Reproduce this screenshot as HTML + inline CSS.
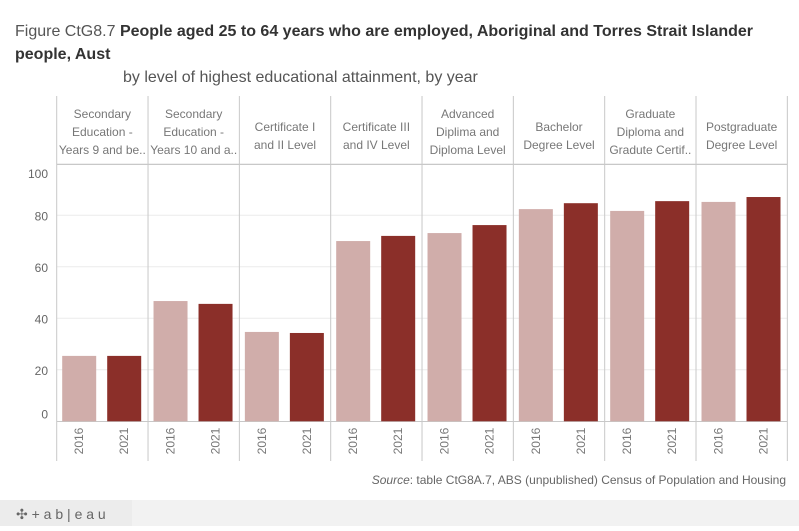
<!DOCTYPE html>
<html><head><meta charset="utf-8"><style>
body{margin:0;width:799px;height:526px;overflow:hidden;background:#fff;font-family:"Liberation Sans",sans-serif;}
</style></head><body>
<svg width="799" height="526" xmlns="http://www.w3.org/2000/svg">
<text x="15" y="36" font-size="16" fill="#555">Figure CtG8.7 <tspan font-weight="bold" fill="#333">People aged 25 to 64 years who are employed, Aboriginal and Torres Strait Islander</tspan></text>
<text x="15" y="59" font-size="16" font-weight="bold" fill="#333">people, Aust</text>
<text x="123" y="82" font-size="16" fill="#555">by level of highest educational attainment, by year</text>
<g id="grid"></g>
<g id="panels"></g>
<g id="bars"></g>
<text x="786" y="484" font-size="12" fill="#666" text-anchor="end"><tspan font-style="italic">Source</tspan>: table CtG8A.7, ABS (unpublished) Census of Population and Housing</text>
<rect x="0" y="500" width="799" height="26" fill="#f2f2f2"/>
<rect x="0" y="500" width="132" height="26" fill="#ececec"/>
<text x="16" y="519" font-size="14" fill="#666">✣ + a b | e a u</text>
</svg>
<script>
const categories=[["Secondary","Education -","Years 9 and be.."],["Secondary","Education -","Years 10 and a.."],["Certificate I","and II Level"],["Certificate III","and IV Level"],["Advanced","Diplima and","Diploma Level"],["Bachelor","Degree Level"],["Graduate","Diploma and","Gradute Certif.."],["Postgraduate","Degree Level"]];
const years=["2016","2021"];
const values2016=[25.4,46.7,34.7,70.0,73.1,82.4,81.7,85.2];
const values2021=[25.4,45.6,34.3,72.0,76.2,84.7,85.5,87.1];
const yTicks=[0,20,40,60,80,100];
const NS="http://www.w3.org/2000/svg";
const x0=56.7,pw=91.33,base=421.3,scale=2.575;
const y=v=>base-v*scale;
function mk(tag,attrs,parent){const e=document.createElementNS(NS,tag);for(const k in attrs)e.setAttribute(k,attrs[k]);document.getElementById(parent).appendChild(e);return e;}
yTicks.forEach(t=>{
 if(t>0){const g=mk('line',{x1:x0,x2:787,y1:y(t),y2:y(t),stroke:'#ececec','stroke-width':1},'grid');
 
 }
 const off=t===0?-3:(t===100?14:5);
 const l=mk('text',{x:48,y:y(t)+off,'font-size':12,fill:'#666','text-anchor':'end'},'grid');
 l.textContent=t;
 
 
});
const hl=mk('line',{x1:x0,x2:787,y1:164.5,y2:164.5,stroke:'#c8c8c8'},'panels');


const al=mk('line',{x1:x0,x2:787,y1:421.5,y2:421.5,stroke:'#c8c8c8'},'panels');


for(let i=0;i<=categories.length;i++){
 const vx=x0+i*pw;
 const vl=mk('line',{x1:vx,x2:vx,y1:96,y2:461,stroke:'#c8c8c8'},'panels');
 
 
}
categories.forEach((c,i)=>{
 const cx=x0+i*pw+pw/2;
 const startY=c.length===3?118:131;
 c.forEach((line,j)=>{
  const t=mk('text',{x:cx,y:startY+j*18,'font-size':12,fill:'#777','text-anchor':'middle'},'panels');
  t.textContent=line;
  
  
 });
 [values2016[i],values2021[i]].forEach((v,k)=>{
  const bx=x0+i*pw+5.5+k*45;
  const r=mk('rect',{x:bx,y:y(v),width:34,height:base-y(v),fill:k?'#8b2f29':'#d0adaa'},'bars');
  
  
  const tx=bx+17+4,ty=441;
  const t=mk('text',{x:tx,y:ty,'font-size':12,fill:'#777','text-anchor':'middle',transform:`rotate(-90 ${tx} ${ty})`},'bars');
  t.textContent=years[k];
  
  
 });
});
</script>
</body></html>
